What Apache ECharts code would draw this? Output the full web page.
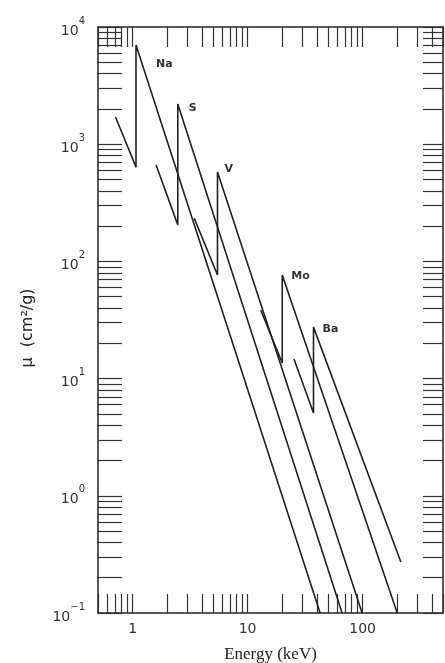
<!DOCTYPE html>
<html>
<head>
<meta charset="utf-8">
<script src="https://cdn.jsdelivr.net/npm/echarts@6/dist/echarts.min.js"></script>
<style>
  html, body { margin: 0; padding: 0; background: #fff; }
  #chart { width: 445px; height: 663px; }
</style>
</head>
<body>
<div id="chart"></div>
<script>
// each element: pre-edge start, K-edge bottom, K-edge top, end of the post-edge line
const naEnergy = [0.71, 1.07, 1.07, 42.7];
const naMu = [1706, 638, 7020, 0.1];
const sEnergy = [1.6, 2.47, 2.47, 66.3];
const sMu = [664, 205, 2203, 0.1];
const vEnergy = [3.43, 5.47, 5.47, 99];
const vMu = [234, 76.5, 579, 0.1];
const moEnergy = [13.0, 20.0, 20.0, 200];
const moMu = [38.5, 13.6, 76.5, 0.1];
const baEnergy = [25.3, 37.4, 37.4, 215];
const baMu = [14.7, 5.09, 27.5, 0.272];

const elementNames = ['Na', 'S', 'V', 'Mo', 'Ba'];

const xLabelValues = [1, 10, 100];
const yLabelValues = [0.1, 1, 10, 100, 1000, 10000];
const xTickValues = [
  0.5, 0.6, 0.7, 0.8, 0.9,
  1, 2, 3, 4, 5, 6, 7, 8, 9,
  10, 20, 30, 40, 50, 60, 70, 80, 90,
  100, 200, 300, 400, 500,
];
const yTickValues = [
  0.1, 0.2, 0.3, 0.4, 0.5, 0.6, 0.7, 0.8, 0.9,
  1, 2, 3, 4, 5, 6, 7, 8, 9,
  10, 20, 30, 40, 50, 60, 70, 80, 90,
  100, 200, 300, 400, 500, 600, 700, 800, 900,
  1000, 2000, 3000, 4000, 5000, 6000, 7000, 8000, 9000,
  10000,
];

const LINE = '#222';
const PEAK = 2;
// where each element name sits next to its edge top
const labelOffsets = [[20, 19], [11, 4], [7, -3], [9, 1], [9, 2]];

const chart = echarts.init(document.getElementById('chart'), null, { renderer: 'canvas' });

const powLabel = v => {
  const e = Math.round(Math.log10(v));
  return '{b|10}{s|' + (e < 0 ? '\u2212' + (-e) : e) + '}';
};

const frameAxis = (extra) => Object.assign({
  type: 'log',
  logBase: 10,
  axisLine: { show: true, lineStyle: { color: LINE, width: 1.5 } },
  splitLine: { show: false },
  minorTick: { show: false },
}, extra);

const toPoints = (xs, ys, idx) => xs.map((x, i) => {
  if (i !== PEAK) return [x, ys[i]];
  return {
    value: [x, ys[i]],
    label: {
      show: true,
      position: 'right',
      distance: 0,
      offset: labelOffsets[idx],
      formatter: elementNames[idx],
      fontFamily: 'DejaVu Sans',
      fontSize: 11,
      fontWeight: 'bold',
      color: '#333',
    },
  };
});

const seriesData = [
  [naEnergy, naMu],
  [sEnergy, sMu],
  [vEnergy, vMu],
  [moEnergy, moMu],
  [baEnergy, baMu],
];

const option = {
  animation: false,
  backgroundColor: '#fff',
  grid: { left: 98, right: 2, top: 27, bottom: 50, outerBoundsMode: 'none', containLabel: false },
  xAxis: [
    frameAxis({
      min: 0.5,
      max: 500,
      name: 'Energy (keV)',
      nameLocation: 'middle',
      nameGap: 33,
      nameTextStyle: { fontFamily: 'Liberation Serif', fontSize: 17, color: '#222' },
      axisTick: { show: true, inside: true, length: 19, customValues: xTickValues, lineStyle: { color: '#333', width: 1.2 } },
      axisLabel: {
        customValues: xLabelValues,
        formatter: v => String(v),
        margin: 9,
        fontFamily: 'DejaVu Sans',
        fontSize: 14,
        color: '#333',
      },
    }),
    frameAxis({
      position: 'top',
      min: 0.5,
      max: 500,
      axisTick: { show: true, inside: true, length: 20, customValues: xTickValues, lineStyle: { color: '#333', width: 1.2 } },
      axisLabel: { show: false },
    }),
  ],
  yAxis: [
    frameAxis({
      min: 0.1,
      max: 10000,
      name: '\u03bc  (cm\u00b2/g)',
      nameLocation: 'middle',
      nameGap: 62,
      nameRotate: 90,
      nameTextStyle: { fontFamily: 'DejaVu Sans', fontSize: 16, color: '#222', padding: [0, 16, 0, 0] },
      axisTick: { show: true, inside: true, length: 24, customValues: yTickValues, lineStyle: { color: '#333', width: 1.2 } },
      axisLabel: {
        customValues: yLabelValues,
        formatter: powLabel,
        margin: 13,
        color: '#333',
        rich: {
          b: { fontFamily: 'DejaVu Sans', fontSize: 14, lineHeight: 22, verticalAlign: 'bottom', color: '#333' },
          s: { fontFamily: 'DejaVu Sans', fontSize: 10, lineHeight: 22, verticalAlign: 'top', color: '#333' },
        },
      },
    }),
    frameAxis({
      position: 'right',
      min: 0.1,
      max: 10000,
      axisTick: { show: true, inside: true, length: 20, customValues: yTickValues, lineStyle: { color: '#333', width: 1.2 } },
      axisLabel: { show: false },
    }),
  ],
  series: seriesData.map(([xs, ys], idx) => ({
    name: elementNames[idx],
    type: 'line',
    xAxisIndex: 0,
    yAxisIndex: 0,
    data: toPoints(xs, ys, idx),
    showSymbol: true,
    showAllSymbol: true,
    symbolSize: 0,
    lineStyle: { color: LINE, width: 1.6 },
    itemStyle: { color: LINE },
    emphasis: { disabled: true },
  })),
};

chart.setOption(option);
window.addEventListener('resize', chart.resize);
</script>
</body>
</html>
